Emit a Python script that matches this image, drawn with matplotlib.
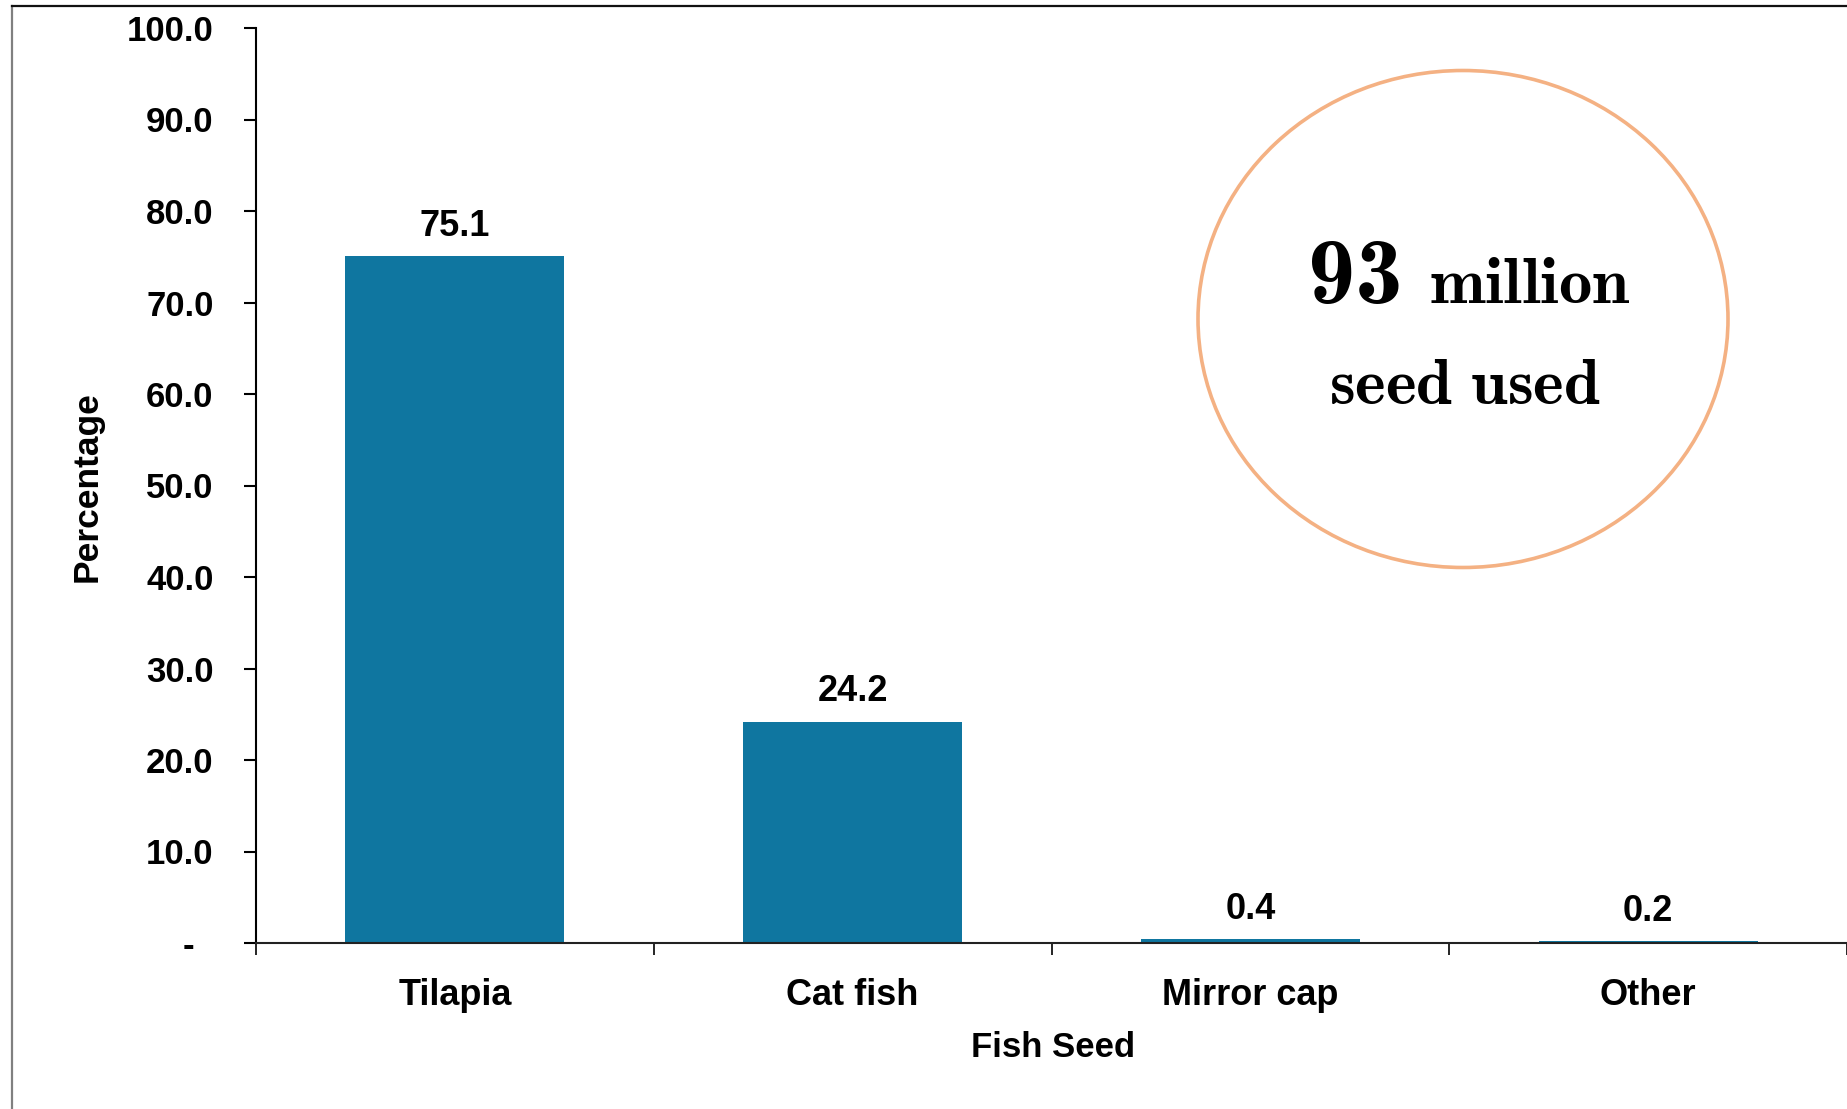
import os
import matplotlib
matplotlib.use("Agg")
import matplotlib.pyplot as plt
from matplotlib.patches import Ellipse
from matplotlib.lines import Line2D
from matplotlib.font_manager import FontProperties
import numpy as np

categories = ["Tilapia", "Cat fish", "Mirror cap", "Other"]
shares = [75.1, 24.2, 0.4, 0.2]
y_ticks = [0, 10, 20, 30, 40, 50, 60, 70, 80, 90, 100]
y_tick_labels = ["-  ", "10.0", "20.0", "30.0", "40.0", "50.0", "60.0",
                 "70.0", "80.0", "90.0", "100.0"]
headline_number = "93"
headline_unit = "million"
headline_rest = "seed used"

plt.rcParams["font.family"] = ["Liberation Sans", "DejaVu Sans"]
plt.rcParams["font.weight"] = "bold"
plt.rcParams["mathtext.fontset"] = "cm"

W, H = 1847, 1109
fig = plt.figure(figsize=(W / 100, H / 100), dpi=100)

def fx(px):
    return px / W

def fy(py):
    return 1 - py / H

ax = fig.add_axes([fx(256), fy(943), fx(W - 256), (943 - 28) / H])

bar_color = "#0F76A0"
x = np.arange(len(categories))
ax.bar(x, shares, width=0.55, color=bar_color, zorder=2)

for xi, v in zip(x, shares):
    ax.annotate(f"{v:.1f}", xy=(xi, v), xytext=(0, 14.5),
                textcoords="offset points", ha="center", va="baseline",
                fontsize=26, fontweight="bold")

ax.set_xlim(-0.5, len(categories) - 0.5)
ax.set_ylim(0, 100)

ax.set_yticks(y_ticks)
ax.set_yticklabels(y_tick_labels)
ax.tick_params(axis="y", direction="out", length=8.6, width=1.5,
               pad=22, labelsize=25)

ax.set_xticks(x)
ax.set_xticklabels(categories)
ax.set_xticks(np.arange(-0.5, len(categories), 1.0), minor=True)
ax.tick_params(axis="x", which="major", length=0, pad=25, labelsize=26)
ax.tick_params(axis="x", which="minor", direction="out", length=8.6, width=1.2)

for side in ("top", "right"):
    ax.spines[side].set_visible(False)
ax.spines["left"].set_linewidth(1.5)
ax.spines["bottom"].set_linewidth(1.5)
ax.spines["bottom"].set_color("#222222")

for lab in ax.get_xticklabels() + ax.get_yticklabels():
    lab.set_fontweight("bold")

fig.text(fx(87), fy(487), "Percentage", rotation=90, ha="center",
         va="center", fontsize=25.5, fontweight="bold")
fig.text(fx(1053), fy(1057), "Fish Seed", ha="center", va="baseline",
         fontsize=25, fontweight="bold")

# highlight bubble with the total seed count
circle = Ellipse((fx(1463), fy(319)), width=fx(530), height=497 / H,
                 transform=fig.transFigure, fill=False,
                 edgecolor="#F4B183", linewidth=2.6)
fig.add_artist(circle)
cm_bold = FontProperties(fname=os.path.join(matplotlib.get_data_path(),
                                            "fonts", "ttf", "cmb10.ttf"),
                         size=68)
fig.text(fx(1403), fy(303), headline_number, ha="right", va="baseline",
         fontproperties=cm_bold)
fig.text(fx(1429), fy(303), r"$\mathbf{%s}$" % headline_unit,
         ha="left", va="baseline", fontsize=48)
fig.text(fx(1465), fy(404), r"$\mathbf{%s}$" % headline_rest.replace(" ", r"\ "),
         ha="center", va="baseline", fontsize=47)

# frame edges around the chart
fig.add_artist(Line2D([fx(12), fx(12)], [0, fy(6)], transform=fig.transFigure,
                      color="#808080", linewidth=1.6))
fig.add_artist(Line2D([fx(12), 1], [fy(6), fy(6)], transform=fig.transFigure,
                      color="#111111", linewidth=1.6))

fig.savefig("out.png", dpi=100)
